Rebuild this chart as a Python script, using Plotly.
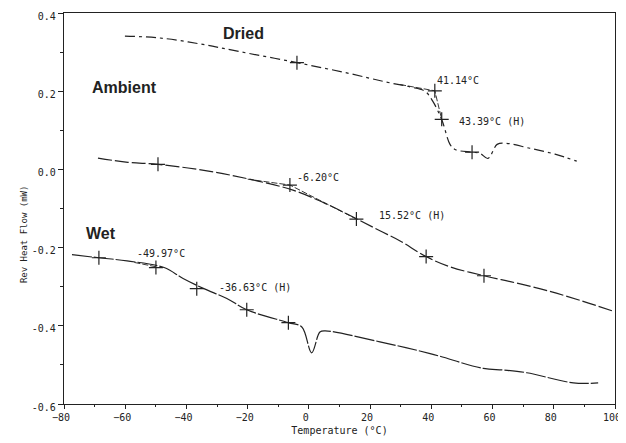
import plotly.graph_objects as go

# Reversing heat flow curves (mW) vs temperature (°C)
dried_t = [-60.1, -48.6, -35.6, -22.5, -3.9, 13.4, 24.9, 33.0, 37.9, 40.5, 43.5,
           46.1, 47.7, 53.3, 55.9, 58.5, 61.5, 64.1, 72.2, 80.4, 87.5]
dried_hf = [0.341, 0.336, 0.321, 0.301, 0.273, 0.245, 0.224, 0.211, 0.200, 0.174,
            0.125, 0.064, 0.051, 0.044, 0.041, 0.028, 0.064, 0.067, 0.054, 0.039, 0.021]
dried_marks_t = [-3.9, 41.14, 43.39, 53.3]
dried_marks_hf = [0.273, 0.201, 0.128, 0.044]

amb_t = [-68.9, -59.1, -49.3, -32.3, -18.3, -5.2, 5.9, 15.7, 23.2, 29.8, 38.3,
         46.1, 57.2, 67.5, 77.8, 88.6, 100.0]
amb_hf = [0.029, 0.018, 0.013, -0.005, -0.027, -0.053, -0.089, -0.127, -0.157,
          -0.183, -0.223, -0.249, -0.272, -0.290, -0.310, -0.335, -0.364]
amb_marks_t = [-49.3, -6.2, 15.52, 38.3, 57.2]
amb_marks_hf = [0.013, -0.040, -0.127, -0.223, -0.272]

wet_t = [-77.4, -68.6, -59.4, -47.3, -41.1, -34.3, -26.8, -20.3, -6.7, -2.3, 0.9,
         3.6, 5.3, 23.2, 39.6, 57.0, 63.5, 71.2, 86.4, 94.5]
wet_hf = [-0.218, -0.226, -0.234, -0.251, -0.279, -0.305, -0.330, -0.359, -0.392,
          -0.403, -0.469, -0.416, -0.413, -0.441, -0.471, -0.509, -0.513, -0.520,
          -0.546, -0.546]
wet_marks_t = [-68.6, -49.97, -36.63, -20.3, -6.7]
wet_marks_hf = [-0.226, -0.251, -0.305, -0.359, -0.392]

# onset tangent lines
dried_tan_t = [29.8, 41.14, 43.39]
dried_tan_hf = [0.217, 0.201, 0.128]
amb_tan_t = [-20.0, -6.2, 15.52]
amb_tan_hf = [-0.025, -0.040, -0.127]
wet_tan_t = [-57.0, -49.97]
wet_tan_hf = [-0.238, -0.249]

labels = [("Dried", -21.5, 0.347), ("Ambient", -60.4, 0.209), ("Wet", -67.9, -0.165)]
temps = [("41.14°C", 41.2, 0.228), ("43.39°C (H)", 48.4, 0.123),
         ("-6.20°C", -4.5, -0.020), ("15.52°C (H)", 22.3, -0.119),
         ("-49.97°C", -56.8, -0.216), ("-36.63°C (H)", -30.0, -0.302)]

ink = "#222222"
mono = "DejaVu Sans Mono"

fig = go.Figure()
for t, hf, dash in [(dried_t, dried_hf, "10px,4px,3px,4px"),
                    (amb_t, amb_hf, "14px,3px"),
                    (wet_t, wet_hf, "20px,2px")]:
    fig.add_trace(go.Scatter(x=t, y=hf, mode="lines", line=dict(color=ink, width=1.2, dash=dash),
                             line_shape="spline", showlegend=False))
for t, hf in [(dried_tan_t, dried_tan_hf), (amb_tan_t, amb_tan_hf), (wet_tan_t, wet_tan_hf)]:
    fig.add_trace(go.Scatter(x=t, y=hf, mode="lines", line=dict(color=ink, width=0.9, dash="6px,2px"),
                             showlegend=False))
for t, hf in [(dried_marks_t, dried_marks_hf), (amb_marks_t, amb_marks_hf), (wet_marks_t, wet_marks_hf)]:
    fig.add_trace(go.Scatter(x=t, y=hf, mode="markers",
                             marker=dict(symbol="cross-thin-open", size=10, color=ink,
                                         line=dict(color=ink, width=1.2)),
                             showlegend=False))

for txt, x, y in labels:
    fig.add_annotation(x=x, y=y, text="<b>" + txt + "</b>", showarrow=False,
                       font=dict(family="Liberation Sans", size=16, color=ink))
for txt, x, y in temps:
    fig.add_annotation(x=x, y=y, text=txt, showarrow=False, xanchor="left",
                       font=dict(family=mono, size=10, color=ink))

fig.add_annotation(xref="paper", x=-0.085, y=-0.165, text="Rev Heat Flow (mW)", textangle=-90,
                   showarrow=False, font=dict(family=mono, size=9, color=ink))

# page body has an 8px margin, so the figure is sized to fit the window
fig.update_layout(
    width=618, height=435,
    margin=dict(l=56, r=11, t=5, b=39),
    paper_bgcolor="white", plot_bgcolor="white",
    font=dict(family=mono, size=10, color=ink),
)
fig.update_xaxes(range=[-80, 100], tickvals=[-80, -60, -40, -20, 0, 20, 40, 60, 80, 100],
                 ticks="outside", ticklen=4, tickcolor=ink, ticklabeloverflow="allow",
                 ticklabelshift=-3, automargin=False,
                 minor=dict(ticks="outside", ticklen=2, dtick=10, tickcolor=ink),
                 showline=True, linecolor=ink, linewidth=1.2, mirror=True, showgrid=False,
                 zeroline=False, title=dict(text="Temperature (°C)", standoff=4,
                                            font=dict(family=mono, size=10)))
fig.update_yaxes(range=[-0.6, 0.4], tickvals=[0.4, 0.2, 0.0, -0.2, -0.4, -0.6],
                 ticktext=["0.4", "0.2", "0.0", "-0.2", "-0.4", "-0.6"],
                 ticks="outside", ticklen=5, tickcolor=ink, ticklabeloverflow="allow",
                 ticklabelshift=3, automargin=False,
                 minor=dict(ticks="outside", ticklen=3, dtick=0.1, tickcolor=ink),
                 showline=True, linecolor=ink, linewidth=1.2, mirror=True, showgrid=False,
                 zeroline=False)

fig.write_html("out.html")
